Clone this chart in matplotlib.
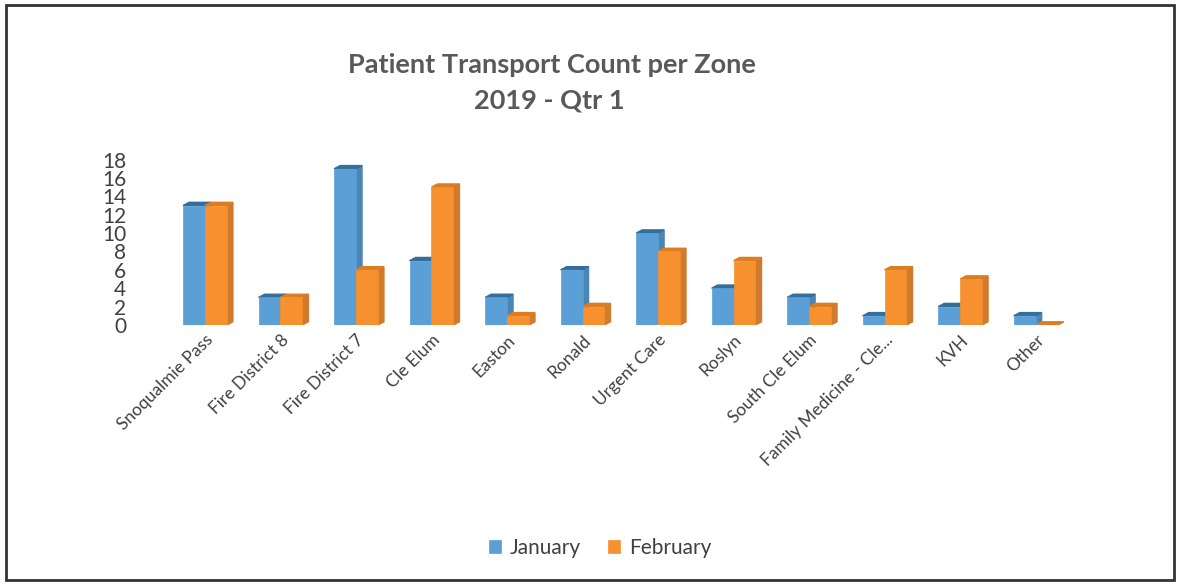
import matplotlib.pyplot as plt
from matplotlib.patches import Polygon, Rectangle
import numpy as np

plt.rcParams['font.family'] = ['Lato', 'DejaVu Sans']

zones = ['Snoqualmie Pass', 'Fire District 8', 'Fire District 7', 'Cle Elum', 'Easton',
         'Ronald', 'Urgent Care', 'Roslyn', 'South Cle Elum', 'Family Medicine - Cle...',
         'KVH', 'Other']
january = [13, 3, 17, 7, 3, 6, 10, 4, 3, 1, 2, 1]
february = [13, 3, 6, 15, 1, 2, 8, 7, 2, 6, 5, 0]
yticks = [0, 2, 4, 6, 8, 10, 12, 14, 16, 18]

blue = '#5a9fd6'
orange = '#f7902e'
blue_side = '#4a85b4'
orange_side = '#cf7a2c'
blue_top = '#346f9c'
orange_top = '#dd7d22'

fig = plt.figure(figsize=(11.81, 5.84), dpi=100)
ax = fig.add_axes([140 / 1181, (584 - 325) / 584, 950 / 1181, 170 / 584])

x = np.arange(len(zones))
w = 0.29
dx = 0.08   # depth offset in x units
dy = 0.35   # depth offset in data units


def draw_bars(xpos, vals, face, side, top, label):
    bars = ax.bar(xpos, vals, width=w, color=face, edgecolor=face, linewidth=0.5,
                  label=label, zorder=3)
    for b in bars:
        x0 = b.get_x()
        x1 = x0 + b.get_width()
        h = b.get_height()
        ax.add_patch(Polygon([(x1, 0), (x1 + dx, dy), (x1 + dx, h + dy), (x1, h)],
                             closed=True, color=side, zorder=2))
        ax.add_patch(Polygon([(x0, h), (x0 + dx, h + dy), (x1 + dx, h + dy), (x1, h)],
                             closed=True, color=top, zorder=2))
    return bars


draw_bars(x - w / 2, january, blue, blue_side, blue_top, 'January')
draw_bars(x + w / 2, february, orange, orange_side, orange_top, 'February')

ax.set_xlim(-0.86, 11.72)
ax.set_ylim(0, 18.5)
ax.set_yticks(yticks)
ax.set_yticklabels([str(t) for t in yticks], fontsize=15, color='#404040')
ax.set_xticks(x)
ax.set_xticklabels(zones, rotation=45, ha='right', rotation_mode='anchor',
                   fontsize=12.5, color='#404040')
ax.tick_params(axis='x', length=0, pad=5)
ax.tick_params(axis='y', length=0, pad=10)
for s in ax.spines.values():
    s.set_visible(False)

fig.text(0.467, 1 - 65 / 584, 'Patient Transport Count per Zone', ha='center', va='center',
         fontsize=19.5, fontweight='bold', color='#595959')
fig.text(0.465, 1 - 100 / 584, '2019 - Qtr 1', ha='center', va='center',
         fontsize=19.5, fontweight='bold', color='#595959')

leg = fig.legend(loc='center', bbox_to_anchor=(0.508, 1 - 548 / 584), ncol=2, frameon=False,
                 fontsize=15, handlelength=0.6, handleheight=0.6, handletextpad=0.4,
                 columnspacing=1.3)
for t in leg.get_texts():
    t.set_color('#404040')

fig.patches.append(Rectangle((6 / 1181, 4 / 584), 1168 / 1181, 575 / 584,
                             transform=fig.transFigure, fill=False,
                             edgecolor='#333333', linewidth=2))

fig.savefig('out.png', dpi=100)
